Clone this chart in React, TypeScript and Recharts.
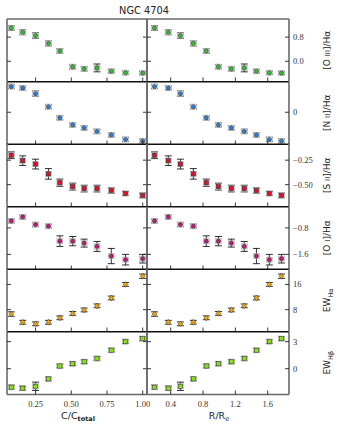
import React from "react";
import { ScatterChart, Scatter, XAxis, YAxis, ErrorBar } from "recharts";

// bin centres on the two x scales
const cTotal = [0.08, 0.16, 0.25, 0.34, 0.42, 0.51, 0.59, 0.68, 0.78, 0.88, 1.0];
const rRe = [0.2, 0.37, 0.52, 0.68, 0.84, 0.99, 1.15, 1.31, 1.46, 1.62, 1.77];

// line ratios and equivalent widths (same values in both columns)
const oiii = [1.1, 0.96, 0.85, 0.59, 0.34, -0.18, -0.25, -0.22, -0.33, -0.38, -0.39];
const oiiiErr = [0.08, 0.08, 0.09, 0.08, 0.07, 0.07, 0.07, 0.13, 0.06, 0.05, 0.05];
const nii = [0.51, 0.48, 0.37, 0.11, -0.11, -0.25, -0.31, -0.38, -0.45, -0.54, -0.57];
const niiErr = [0.04, 0.04, 0.05, 0.04, 0.04, 0.04, 0.04, 0.04, 0.04, 0.04, 0.04];
const sii = [-0.2, -0.255, -0.29, -0.39, -0.48, -0.52, -0.54, -0.54, -0.56, -0.59, -0.61];
const siiErr = [0.034, 0.049, 0.05, 0.054, 0.037, 0.035, 0.034, 0.034, 0.027, 0.02, 0.024];
const oi = [-0.59, -0.47, -0.7, -0.75, -1.2, -1.2, -1.26, -1.36, -1.65, -1.76, -1.73];
const oiErr = [0.06, 0.06, 0.06, 0.06, 0.16, 0.14, 0.12, 0.15, 0.23, 0.16, 0.13];
const ewHa = [6.6, 4.0, 3.5, 4.0, 5.4, 6.8, 7.9, 9.2, 11.7, 16.0, 18.6];
const ewHaErr = [0.7, 0.6, 0.6, 0.6, 0.6, 0.6, 0.6, 0.6, 0.6, 0.6, 0.7];
const ewHb = [-2.05, -2.16, -1.95, -1.13, 0.3, 0.55, 0.77, 1.13, 2.05, 3.0, 3.33];
const ewHbErr = [0.22, 0.22, 0.46, 0.2, 0.2, 0.2, 0.2, 0.2, 0.2, 0.2, 0.2];

const xTicksC = [0.25, 0.5, 0.75, 1.0];
const xTicksR = [0.4, 0.8, 1.2, 1.6];

const minus = (s: string) => s.replace("-", "\u2212");

const ROWS = [
  { ys: oiii, err: oiiiErr, domain: [-0.67, 1.4], ticks: [0, 0.8], fmt: (v: number) => v.toFixed(1), color: "#2fc02f", kind: "circle", halo: true },
  { ys: nii, err: niiErr, domain: [-0.64, 0.6], ticks: [0], fmt: () => "0", color: "#2a7fe0", kind: "pentagon", halo: true },
  { ys: sii, err: siiErr, domain: [-0.723, -0.085], ticks: [-0.5, -0.25], fmt: (v: number) => minus(v.toFixed(2)), color: "#dc1030", kind: "square", halo: true },
  { ys: oi, err: oiErr, domain: [-2.056, -0.17], ticks: [-1.6, -0.8], fmt: (v: number) => minus(v.toFixed(1)), color: "#c8157a", kind: "circle", halo: true },
  { ys: ewHa, err: ewHaErr, domain: [1.06, 20.9], ticks: [8, 16], fmt: (v: number) => String(v), color: "#f5a300", kind: "diamond", halo: false },
  { ys: ewHb, err: ewHbErr, domain: [-2.86, 4.07], ticks: [0, 3], fmt: (v: number) => String(v), color: "#86e012", kind: "square", halo: true },
];

const COLS = [
  { xs: cTotal, domain: [0.05, 1.03], ticks: xTicksC, fmt: (v: number) => v.toFixed(2) },
  { xs: rRe, domain: [0.107, 1.863], ticks: xTicksR, fmt: (v: number) => v.toFixed(1) },
];

const PL = [7, 147];
const PW = [140, 142];
const TOP = 19;
const RH = 62.5;
const M = 4;
const FRAME = "#6a6a6a";
const SEP = "#111";
const TICK_FONT = "'Liberation Serif', 'DejaVu Serif', serif";
const SANS = "'DejaVu Sans', sans-serif";

const marker = (kind: string, color: string, halo: boolean) => (p: any) => {
  const { cx, cy } = p;
  if (cx == null || cy == null) return <g />;
  const edge = "#262626";
  let core: React.ReactNode;
  if (kind === "circle") {
    core = <circle cx={cx} cy={cy} r={2.1} fill={color} stroke={edge} strokeWidth={0.5} />;
  } else if (kind === "square") {
    core = <rect x={cx - 2.1} y={cy - 2.1} width={4.2} height={4.2} fill={color} stroke={edge} strokeWidth={0.5} />;
  } else if (kind === "pentagon") {
    const pts = [0, 1, 2, 3, 4]
      .map((k) => {
        const a = -Math.PI / 2 + (k * 2 * Math.PI) / 5;
        return `${cx + 2.3 * Math.cos(a)},${cy + 2.3 * Math.sin(a)}`;
      })
      .join(" ");
    core = <polygon points={pts} fill={color} stroke={edge} strokeWidth={0.5} />;
  } else {
    core = (
      <polygon
        points={`${cx},${cy - 2.9} ${cx + 2.3},${cy} ${cx},${cy + 2.9} ${cx - 2.3},${cy}`}
        fill={color}
        stroke={edge}
        strokeWidth={0.5}
      />
    );
  }
  return (
    <g>
      {halo && <rect x={cx - 3} y={cy - 2.7} width={6} height={5.4} fill="#d2d2d2" stroke="#a0a0a0" strokeWidth={0.4} />}
      {core}
    </g>
  );
};

function XTick(props: any) {
  const { x, y, payload, dir, show, fmt } = props;
  return (
    <g>
      <line x1={x} x2={x} y1={y} y2={y + dir * 4} stroke="#222" strokeWidth={0.9} />
      {show && (
        <text x={x} y={y + 12} textAnchor="middle" fontSize={8.5} fontFamily={TICK_FONT} fill="#333">
          {fmt(payload.value)}
        </text>
      )}
    </g>
  );
}

function YTick(props: any) {
  const { x, y, payload, dir, show, fmt } = props;
  return (
    <g>
      <line x1={x} x2={x + dir * 4} y1={y} y2={y} stroke="#222" strokeWidth={0.9} />
      {show && (
        <text x={x + 4} y={y + 3} textAnchor="start" fontSize={8.5} fontFamily={TICK_FONT} fill="#333">
          {fmt(payload.value)}
        </text>
      )}
    </g>
  );
}

function Panel({ col, row }: { col: number; row: number }) {
  const r = ROWS[row];
  const c = COLS[col];
  const data = c.xs.map((x, i) => ({ x, y: r.ys[i], e: r.err[i] }));
  const isBottom = row === ROWS.length - 1;
  const isRight = col === 1;
  // axes of size 0 are not drawn at all, so the "empty" ones get 1px
  const rightW = isRight ? 26 : 1;
  const botH = isBottom ? 14 : 1;
  const w = PW[col] + 2 * M + rightW + 1;
  const h = RH + 2 * M + botH + 1;
  const vLine = { stroke: FRAME, strokeWidth: 1.6 };
  const topLine = row === 0 ? { stroke: FRAME, strokeWidth: 1.4 } : { stroke: SEP, strokeWidth: 1 };
  const botLine = isBottom ? { stroke: FRAME, strokeWidth: 1.4 } : { stroke: SEP, strokeWidth: 1 };
  return (
    <div style={{ position: "absolute", left: PL[col] - M - 1, top: TOP + row * RH - M - 1 }}>
      <ScatterChart width={w} height={h} margin={{ top: M, right: M, bottom: M, left: M }}>
        <XAxis
          xAxisId="b"
          dataKey="x"
          type="number"
          domain={c.domain}
          ticks={c.ticks}
          interval={0}
          allowDataOverflow
          height={botH}
          tickSize={0}
          tickMargin={0}
          axisLine={botLine}
          tick={(p: any) => <XTick {...p} dir={-1} show={isBottom} fmt={c.fmt} />}
        />
        <XAxis
          xAxisId="t"
          orientation="top"
          type="number"
          domain={c.domain}
          ticks={c.ticks}
          interval={0}
          allowDataOverflow
          height={1}
          tickSize={0}
          tickMargin={0}
          axisLine={topLine}
          tick={(p: any) => <XTick {...p} dir={1} show={false} fmt={c.fmt} />}
        />
        <YAxis
          yAxisId="l"
          dataKey="y"
          type="number"
          domain={r.domain}
          ticks={r.ticks}
          interval={0}
          allowDataOverflow
          width={1}
          tickSize={0}
          tickMargin={0}
          axisLine={vLine}
          tick={(p: any) => <YTick {...p} dir={1} show={false} fmt={r.fmt} />}
        />
        <YAxis
          yAxisId="r"
          orientation="right"
          type="number"
          domain={r.domain}
          ticks={r.ticks}
          interval={0}
          allowDataOverflow
          width={rightW}
          tickSize={0}
          tickMargin={0}
          axisLine={vLine}
          tick={(p: any) => <YTick {...p} dir={-1} show={isRight} fmt={r.fmt} />}
        />
        <Scatter xAxisId="b" yAxisId="l" data={data} shape={marker(r.kind, r.color, r.halo)} isAnimationActive={false}>
          <ErrorBar dataKey="e" direction="y" width={3.5} stroke="#1a1a1a" strokeWidth={0.9} isAnimationActive={false} />
        </Scatter>
      </ScatterChart>
    </div>
  );
}

const yTitles = [
  [<tspan key="a">[O </tspan>, <tspan key="b" fontSize={7}>III</tspan>, <tspan key="c">]/Hα</tspan>],
  [<tspan key="a">[N </tspan>, <tspan key="b" fontSize={7}>II</tspan>, <tspan key="c">]/Hα</tspan>],
  [<tspan key="a">[S </tspan>, <tspan key="b" fontSize={7}>II</tspan>, <tspan key="c">]/Hα</tspan>],
  [<tspan key="a">[O </tspan>, <tspan key="b" fontSize={7}>I</tspan>, <tspan key="c">]/Hα</tspan>],
  [<tspan key="a">EW</tspan>, <tspan key="b" fontSize={6.5} dy={2.5}>Hα</tspan>],
  [<tspan key="a">EW</tspan>, <tspan key="b" fontSize={6.5} dy={2.5}>Hβ</tspan>],
];

export default function App() {
  return (
    <div style={{ position: "absolute", left: 0, top: 0, width: 345, height: 426, background: "#fff" }}>
      {ROWS.map((_, row) =>
        COLS.map((__, col) => <Panel key={`${row}-${col}`} row={row} col={col} />)
      )}
      <svg width={345} height={426} style={{ position: "absolute", left: 0, top: 0, pointerEvents: "none" }}>
        <text x={144} y={14} textAnchor="middle" fontSize={9.8} fontFamily={SANS} fill="#222">
          NGC 4704
        </text>
        {yTitles.map((t, i) => {
          const cy = TOP + i * RH + RH / 2;
          return (
            <text
              key={i}
              transform={`translate(330, ${cy}) rotate(-90)`}
              textAnchor="middle"
              fontSize={9}
              fontFamily={SANS}
              fill="#222"
            >
              {t}
            </text>
          );
        })}
        <text x={78} y={419} textAnchor="middle" fontSize={9.5} fontFamily={SANS} fill="#222">
          C/C<tspan fontSize={6.5} dy={2} fontWeight="bold">total</tspan>
        </text>
        <text x={219} y={419} textAnchor="middle" fontSize={9.5} fontFamily={SANS} fill="#222">
          R/R<tspan fontSize={6.5} dy={2}>e</tspan>
        </text>
      </svg>
    </div>
  );
}
